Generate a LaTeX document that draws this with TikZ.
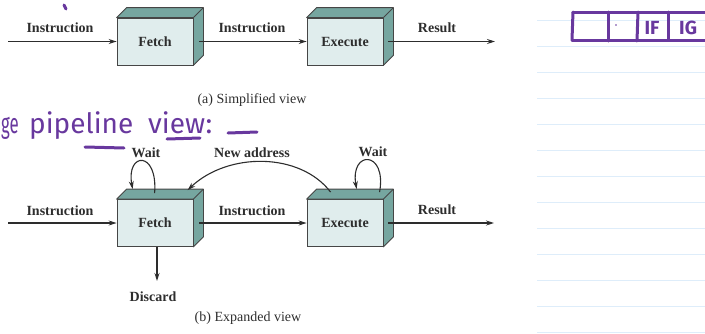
\documentclass[tikz,border=0pt]{standalone}
\usepackage{fontspec}
\setmainfont{Liberation Serif}
\newfontfamily\handfont{Fira Sans}
\usetikzlibrary{arrows.meta}

\definecolor{frontface}{RGB}{224,237,237}
\definecolor{sideface}{RGB}{118,166,160}
\definecolor{boxline}{RGB}{70,70,70}
\definecolor{inkgray}{RGB}{45,45,45}
\definecolor{pen}{RGB}{104,56,158}
\definecolor{ruling}{RGB}{222,237,250}

\tikzset{
  stage/.style={draw=boxline, fill=frontface, line width=0.8pt,
    minimum width=76pt, minimum height=47pt, inner sep=0pt,
    text=inkgray, font=\bfseries\fontsize{14}{16}\selectfont},
  side/.style={draw=boxline, fill=sideface, line width=0.8pt, line join=round},
  lbl/.style={text=inkgray, inner sep=0pt, font=\bfseries\fontsize{14}{16}\selectfont},
  caption/.style={text=inkgray, inner sep=0pt, font=\fontsize{14}{16}\selectfont},
  arr/.style={draw=inkgray, line width=1.1pt, -{Stealth[length=8pt,width=5pt]}},
  ink/.style={draw=pen, line width=3pt, line cap=round, line join=round},
  handtxt/.style={text=pen, inner sep=0pt, font=\handfont\fontsize{28}{30}\selectfont},
  celltxt/.style={text=pen, inner sep=0pt, font=\handfont\bfseries\fontsize{19}{21}\selectfont},
}

% top and right faces of a stage box
\newcommand\boxdepth[1]{%
  \filldraw[side] (#1.north west) -- ++(10,-10) -- ([shift={(10,-10)}]#1.north east)
    -- ([shift={(10,-10)}]#1.south east) -- (#1.south east) -- (#1.north east) -- cycle;
  \draw[side, fill=none] (#1.north east) -- ++(10,-10);
}

\begin{document}
\begin{tikzpicture}[x=1pt, y=-1pt]
\useasboundingbox (0,0) rectangle (705,333);

% ruled notebook lines on the right
\foreach \k in {0,...,12}
  \draw[ruling, line width=1.4pt] (537,20.7+26*\k) -- (705,20.7+26*\k);

% ---------- (a) simplified view ----------
\node[stage] (fa) at (155,41.5) {Fetch};
\boxdepth{fa}
\node[stage] (ea) at (345,41.5) {Execute};
\boxdepth{ea}

\coordinate (ina) at (8,41.5);
\coordinate (outa) at (495,41.5);
\draw[arr] (ina) -- (fa.west);
\draw[arr] ([xshift=6pt]fa.east) -- (ea.west);
\draw[arr] ([xshift=5pt]ea.east) -- (outa);

\node[lbl] (la1) at (60,28) {Instruction};
\node[lbl] (la2) at (252,28) {Instruction};
\node[lbl] (la3) at (437,28) {Result};
\node[caption] (capa) at (252,100) {(a) Simplified view};

% ---------- (b) expanded view ----------
\node[stage] (fb) at (155,223) {Fetch};
\boxdepth{fb}
\node[stage] (eb) at (345,223) {Execute};
\boxdepth{eb}

\coordinate (inb) at (8,223);
\coordinate (outb) at (494,223);
\coordinate (disc) at (157,281);
\draw[arr] (inb) -- (fb.west);
\draw[arr] ([xshift=6pt]fb.east) -- (eb.west);
\draw[arr] ([xshift=5pt]eb.east) -- (outb);
\draw[arr] ([xshift=2pt]fb.south) -- (disc);

% points on the top faces
\coordinate (fbw1) at ([shift={(38,-6)}]fb.north west);
\coordinate (fbw2) at ([shift={(16,-10)}]fb.north west);
\coordinate (fbna) at ([shift={(71,-9)}]fb.north west);
\coordinate (ebna) at ([shift={(24,-7)}]eb.north west);
\coordinate (ebw1) at ([shift={(73,-7)}]eb.north west);
\coordinate (ebw2) at ([shift={(50,-10)}]eb.north west);

\draw[arr] (fbw1) .. controls (158,150) and (126,152) .. (fbw2);
\draw[arr] (ebw1) .. controls (387,150) and (350,150) .. (ebw2);
\draw[arr] (ebna) .. controls (300,152) and (228,152) .. (fbna);

\node[lbl] (lw1) at (146,153) {Wait};
\node[lbl] (lna) at (252,153) {New address};
\node[lbl] (lw2) at (373,152) {Wait};
\node[lbl] (lb1) at (60,211) {Instruction};
\node[lbl] (lb2) at (252,211) {Instruction};
\node[lbl] (lb3) at (437,210) {Result};
\node[lbl] (ldis) at (153,297) {Discard};
\node[caption] (capb) at (248,318) {(b) Expanded view};

% ---------- pen notes ----------
\node[handtxt, anchor=base west] (h1) at (1,133) {\scalebox{0.6}[1]{ge}};
\node[handtxt, anchor=base west] (h2) at (29,133) {pipeline};
\node[handtxt, anchor=base west] (h3) at (148,133) {view};
\node[handtxt, anchor=base] (h4) at (209,133) {:};
\draw[ink] (228,133) -- (257,132);
\draw[ink] (85,147) -- (124,148);
\draw[ink] (167,139) -- (200,138);
\draw[ink] (64,5) -- (66,9);

% small table sketched at top right
\draw[ink] (573,12) -- (710,12);
\draw[ink] (572,40) -- (710,40);
\draw[ink] (573,12) -- (572,40);
\draw[ink] (608,12) -- (608,41);
\draw[ink] (638,12) -- (637,41);
\draw[ink] (668,12) -- (668,40);
\fill[pen] (616,25) circle (0.8pt);
\node[celltxt] (c3) at (652,28) {IF};
\node[celltxt, anchor=west] (c4) at (679,28) {IG};
\end{tikzpicture}
\end{document}
